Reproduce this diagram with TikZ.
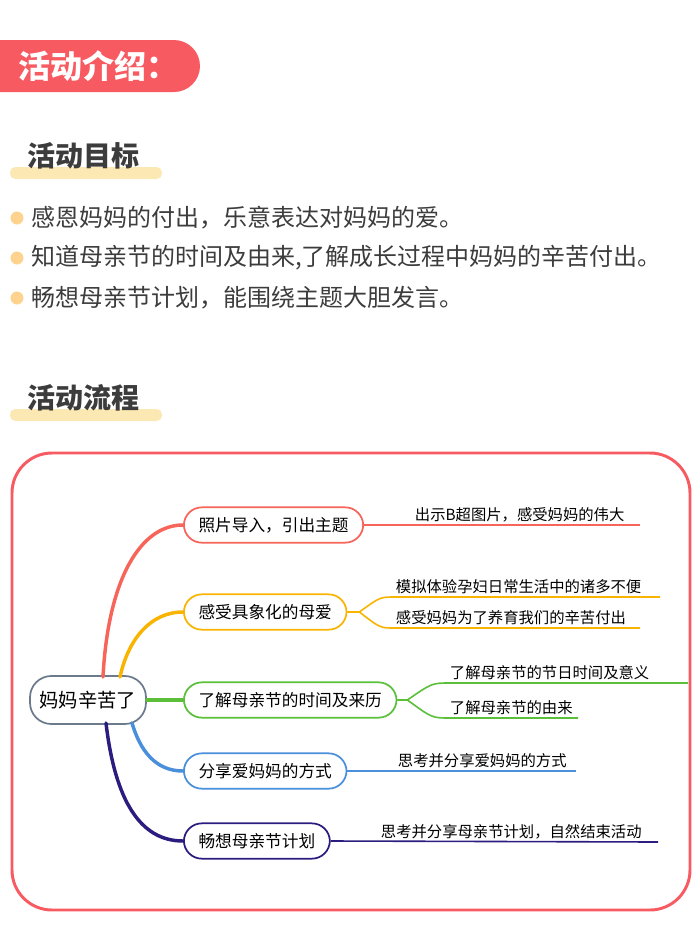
\documentclass[tikz,border=0pt]{standalone}
\usepackage{fontspec}
\setmainfont{Noto Sans CJK SC}
\newcommand\boldcjk{\bfseries}
\definecolor{hdred}{HTML}{F85A62}
\definecolor{barye}{HTML}{FCE8B3}
\definecolor{txtgray}{HTML}{3C3C3C}
\definecolor{cred}{HTML}{F7645A}
\definecolor{corange}{HTML}{F8B400}
\definecolor{cgreen}{HTML}{5BBF3A}
\definecolor{cblue}{HTML}{4A8FDC}
\definecolor{cnavy}{HTML}{2B1D7F}
\definecolor{cgray}{HTML}{6B7B8C}

\begin{document}
\begin{tikzpicture}[x=0.75pt,y=-0.75pt,
    title/.style={font=\boldcjk\fontsize{21}{21}\selectfont,text=txtgray,anchor=west,inner sep=0pt},
    goal/.style={font=\fontsize{18}{18}\selectfont,text=txtgray,anchor=west,inner sep=0pt},
    branch/.style={draw,rounded corners=13.5pt,line width=1.3pt,minimum height=26.5pt,
                   inner xsep=11pt,anchor=west,font=\fontsize{12.5}{12.5}\selectfont},
    leaf/.style={anchor=south west,inner sep=2pt,font=\fontsize{11.5}{11.5}\selectfont},
    link/.style={line width=2.6pt,line cap=round}]
  \useasboundingbox (0,0) rectangle (700,947);
  % header
  \fill[hdred] (0,40) [rounded corners=19.5pt] -- (200,40) -- (200,92) [sharp corners] -- (0,92) -- cycle;
  \node[anchor=west,text=white,inner sep=0pt,font=\boldcjk\fontsize{24}{24}\selectfont] (head) at (18,66) {活动介绍：};
  % goals
  \fill[barye,rounded corners=4pt] (10,167) rectangle (162,179);
  \node[title] (goals) at (27,156) {活动目标};
  \foreach \y/\t in {218/感恩妈妈的付出，乐意表达对妈妈的爱。,
                     258/{知道母亲节的时间及由来,了解成长过程中妈妈的辛苦付出。},
                     298/畅想母亲节计划，能围绕主题大胆发言。}{
    \fill[barye!80!orange] (17,\y) circle[radius=6.5];
    \node[goal] at (31,\y) {\t};
  }
  % flow
  \fill[barye,rounded corners=4pt] (10,409) rectangle (162,421);
  \node[title] (flow) at (27,398) {活动流程};
  \draw[hdred,line width=2.2pt,rounded corners=30pt] (12,453) rectangle (690,910);

  % mind map
  \node[draw=cgray,line width=1.3pt,rounded corners=16pt,minimum width=87pt,minimum height=36pt,
        font=\fontsize{14.5}{14.5}\selectfont] (root) at (88,700) {妈妈辛苦了};
  \node[branch,draw=cred]    (b1) at (183,525) {照片导入，引出主题};
  \node[branch,draw=corange] (b2) at (183,612) {感受具象化的母爱};
  \node[branch,draw=cgreen]  (b3) at (183,700) {了解母亲节的时间及来历};
  \node[branch,draw=cblue]   (b4) at (183,771) {分享爱妈妈的方式};
  \node[branch,draw=cnavy]   (b5) at (183,841) {畅想母亲节计划};

  \draw[link,cred]    (103,677) .. controls (108,580) and (140,525) .. (b1.west);
  \draw[link,corange] (120,677) .. controls (128,640) and (150,612) .. (b2.west);
  \draw[link,cgreen]  (root.east) -- (b3.west);
  \draw[link,cblue]   (132,723) .. controls (140,750) and (155,771) .. (b4.west);
  \draw[link,cnavy]   (106,723) .. controls (115,800) and (140,841) .. (b5.west);

  % leaves
  \coordinate (l1) at (640,525);
  \draw[cred,line width=1.2pt] (b1.east) -- (l1);
  \node[leaf] (t1) at (412,525) {出示B超图片，感受妈妈的伟大};

  \coordinate (l2a) at (660,597);
  \coordinate (l2b) at (640,628);
  \draw[corange,line width=1.2pt] (b2.east) -- ++(12,0) .. controls (380,597) .. (395,597) -- (l2a);
  \draw[corange,line width=1.2pt] (b2.east) -- ++(12,0) .. controls (380,628) .. (395,628) -- (l2b);
  \node[leaf] (t2a) at (393,597) {模拟体验孕妇日常生活中的诸多不便};
  \node[leaf] (t2b) at (393,628) {感受妈妈为了养育我们的辛苦付出};

  \coordinate (l3a) at (688,683);
  \coordinate (l3b) at (578,718);
  \draw[cgreen,line width=1.2pt] (b3.east) -- ++(10,0) .. controls (432,683) .. (450,683) -- (l3a);
  \draw[cgreen,line width=1.2pt] (b3.east) -- ++(10,0) .. controls (432,718) .. (450,718) -- (l3b);
  \node[leaf] (t3a) at (447,683) {了解母亲节的节日时间及意义};
  \node[leaf] (t3b) at (447,718) {了解母亲节的由来};

  \coordinate (l4) at (576,771);
  \draw[cblue,line width=1.2pt] (b4.east) -- (l4);
  \node[leaf] (t4) at (395,771) {思考并分享爱妈妈的方式};

  \coordinate (l5) at (658,842);
  \draw[cnavy,line width=1.2pt] (b5.east) -- (l5);
  \node[leaf] (t5) at (378,842) {思考并分享母亲节计划，自然结束活动};
\end{tikzpicture}
\end{document}
